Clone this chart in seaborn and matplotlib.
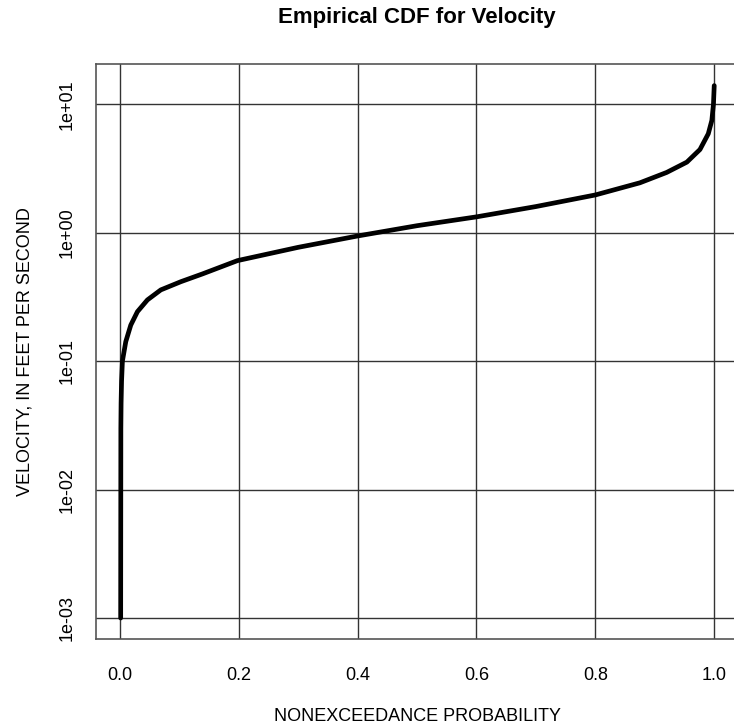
import numpy as np
import pandas as pd
import matplotlib
matplotlib.use("Agg")
import matplotlib.pyplot as plt
import seaborn as sns

# --- DATA ---
prob = [0.0015, 0.0018, 0.0022, 0.0030, 0.0044, 0.0101, 0.0185, 0.0297,
        0.0465, 0.069, 0.1028, 0.139, 0.198, 0.30, 0.40, 0.50, 0.60, 0.70,
        0.80, 0.875, 0.920, 0.954, 0.976, 0.990, 0.996, 0.9987, 1.0]
velocity = [0.001, 0.03, 0.047, 0.07, 0.10, 0.142, 0.191, 0.243,
            0.30, 0.359, 0.416, 0.478, 0.607, 0.77, 0.944, 1.135, 1.33, 1.60,
            1.97, 2.45, 2.95, 3.55, 4.45, 5.9, 7.5, 10.0, 14.0]
x_ticks = [0.0, 0.2, 0.4, 0.6, 0.8, 1.0]
x_labels = ['0.0', '0.2', '0.4', '0.6', '0.8', '1.0']
y_ticks = [1e-3, 1e-2, 1e-1, 1e0, 1e1]
y_labels = ['1e-03', '1e-02', '1e-01', '1e+00', '1e+01']

df = pd.DataFrame({'prob': prob, 'velocity': velocity})

# --- SETUP ---
sns.set_style("white")
plt.rcParams['font.family'] = ['Liberation Sans', 'DejaVu Sans']
plt.rcParams['text.color'] = 'black'

fig = plt.figure(figsize=(7.34, 7.27), dpi=100)
ax = fig.add_axes([96 / 734, 1 - 639.3 / 727, 642 / 734, 575 / 727])

sns.lineplot(data=df, x='prob', y='velocity', ax=ax, color='black',
             linewidth=3.4, sort=False, estimator=None, zorder=3)

ax.set_yscale('log')
ax.set_xlim(-0.04, 1.04)
lo, hi = np.log10(min(velocity)), np.log10(max(velocity))
span = hi - lo
ax.set_ylim(10 ** (lo - 0.04 * span), 10 ** (hi + 0.04 * span))

ax.set_xticks(x_ticks)
ax.set_xticklabels(x_labels)
ax.set_yticks(y_ticks)
ax.set_yticklabels(y_labels, rotation=90, va='center')
ax.minorticks_off()
ax.tick_params(axis='both', length=0, labelsize=13, colors='black')
ax.tick_params(axis='x', pad=20)
ax.tick_params(axis='y', pad=15)

for x in x_ticks:
    ax.axvline(x, color='#333333', lw=1.0, zorder=1)
for y in y_ticks:
    ax.axhline(y, color='#333333', lw=1.0, zorder=1)

for s in ax.spines.values():
    s.set_color('#555555')
    s.set_linewidth(1.2)

ax.set_xlabel('NONEXCEEDANCE PROBABILITY', fontsize=13, labelpad=17, color='black')
ax.set_ylabel('VELOCITY, IN FEET PER SECOND', fontsize=13, labelpad=18, color='black')
fig.text((96 + 738) / 2 / 734, 1 - 18 / 727, 'Empirical CDF for Velocity',
         ha='center', va='center', fontsize=16, fontweight='bold', color='black')

fig.savefig('out.png', dpi=100)
